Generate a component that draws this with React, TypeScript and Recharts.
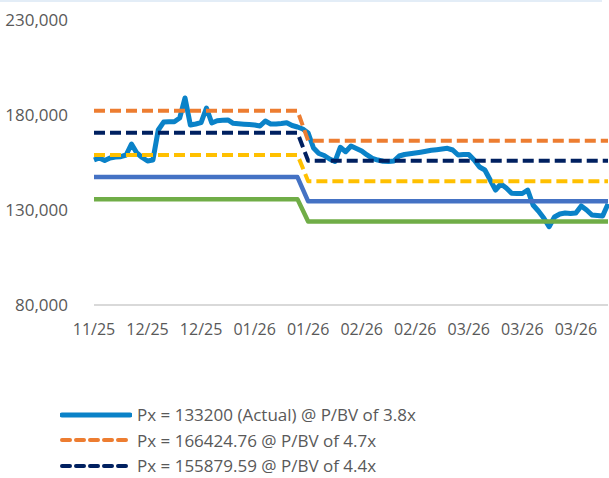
import { LineChart, Line, XAxis, YAxis } from "recharts";

// x tick labels, one every 10 trading days
const TICK_LABELS = ["11/25", "12/25", "12/25", "01/26", "01/26", "02/26", "02/26", "03/26", "03/26", "03/26"];
const TICK_IDX = [0, 10, 20, 30, 40, 50, 60, 70, 80, 90];
const Y_TICKS = [80000, 130000, 180000, 230000];

// daily close
const ACTUAL = [
  156300, 157400, 156050, 157370, 157900, 158050, 158950, 164740, 160000, 157630,
  155800, 156300, 172100, 176300, 176470, 176470, 178400, 188950, 174700, 175260,
  175950, 183680, 175800, 177000, 177260, 177370, 175630, 175370, 175160, 175000,
  174700, 174200, 176840, 175260, 175260, 175520, 175950, 174470, 173680, 172630,
  170520, 162630, 159730, 158680, 156840, 155520, 163000, 160680, 163680, 162370,
  161050, 158950, 157210, 156310, 155630, 155520, 155790, 158420, 159210, 159630,
  160000, 160420, 160890, 161420, 161730, 162100, 162470, 161580, 158950, 159210,
  159210, 156310, 152630, 151050, 145790, 140520, 143680, 141580, 138790, 138680,
  138680, 140520, 132630, 129470, 125790, 121210, 126310, 127890, 128420, 128160,
  128420, 132100, 130000, 127370, 127100, 126840, 133200,
];

// P/BV bands: corner points only (BV steps down around mid Jan)
const STEP_IDX = [0, 38, 40, 96];
const PX_47 = [182250, 182250, 166424.76, 166424.76];
const PX_44 = [170620, 170620, 155879.59, 155879.59];
const PX_41 = [158990, 158990, 145180, 145180];
const PX_38 = [147350, 147350, 134560, 134560];
const PX_35 = [135720, 135720, 123930, 123930];

const toPoints = (idx: number[], vals: number[]) => vals.map((v, k) => ({ i: idx[k], v }));

const TEXT = "#595959";
const FONT = '"Open Sans", sans-serif';

interface Series {
  key: string;
  data: { i: number; v: number }[];
  color: string;
  width: number;
  dash?: string;
  label?: string;
}

const SERIES: Series[] = [
  { key: "actual", data: toPoints(ACTUAL.map((_, k) => k), ACTUAL), color: "#0A82C8", width: 5, label: "Px = 133200 (Actual) @ P/BV of 3.8x" },
  { key: "px47", data: toPoints(STEP_IDX, PX_47), color: "#ED7D31", width: 4, dash: "11 5", label: "Px = 166424.76 @ P/BV of 4.7x" },
  { key: "px44", data: toPoints(STEP_IDX, PX_44), color: "#002060", width: 4, dash: "11 5", label: "Px = 155879.59 @ P/BV of 4.4x" },
  { key: "px41", data: toPoints(STEP_IDX, PX_41), color: "#FFC000", width: 4, dash: "11 5" },
  { key: "px38", data: toPoints(STEP_IDX, PX_38), color: "#4472C4", width: 4.5 },
  { key: "px35", data: toPoints(STEP_IDX, PX_35), color: "#70AD47", width: 4.5 },
];

export default function App() {
  const legendRows = SERIES.filter((s) => s.label);
  return (
    <div
      style={{
        position: "absolute",
        left: 0,
        top: 0,
        width: 609,
        height: 478,
        overflow: "hidden",
        background: "#fff",
        fontFamily: FONT,
      }}
    >
      <div style={{ position: "absolute", left: 0, top: 0, width: 602, height: 2, background: "#e3edf7" }} />
      <LineChart width={609} height={340} margin={{ top: 20, right: 1, left: 0, bottom: 0 }}>
        <XAxis
          type="number"
          dataKey="i"
          domain={[0, 96]}
          ticks={TICK_IDX}
          interval={0}
          tickFormatter={(v: number) => TICK_LABELS[Math.round(v / 10)]}
          axisLine={{ stroke: "#d9d9d9", strokeWidth: 2 }}
          tickLine={false}
          tickSize={0}
          tickMargin={19}
          height={35}
          tick={{ fill: TEXT, fontSize: 16, fontFamily: FONT }}
        />
        <YAxis
          type="number"
          domain={[80000, 230000]}
          ticks={Y_TICKS}
          interval={0}
          width={94}
          axisLine={false}
          tickLine={false}
          tickSize={0}
          tickMargin={26}
          tickFormatter={(v: number) => v.toLocaleString("en-US")}
          tick={{ fill: TEXT, fontSize: 17, fontFamily: FONT }}
        />
        {SERIES.map((s) => (
          <Line
            key={s.key}
            data={s.data}
            dataKey="v"
            type="linear"
            stroke={s.color}
            strokeWidth={s.width}
            strokeDasharray={s.dash}
            strokeLinejoin="round"
            dot={false}
            activeDot={false}
            isAnimationActive={false}
          />
        ))}
      </LineChart>

      {/* legend, only first rows fit in the frame */}
      <div style={{ position: "absolute", left: 60, top: 402 }}>
        {legendRows.map((s) => (
          <div key={s.key} style={{ display: "flex", alignItems: "center", height: 25.5 }}>
            <svg width={72} height={10} style={{ flexShrink: 0 }}>
              <line
                x1={2}
                y1={5}
                x2={70}
                y2={5}
                stroke={s.color}
                strokeWidth={s.dash ? 4 : 5}
                strokeDasharray={s.dash ? "8 6" : undefined}
                strokeLinecap="round"
              />
            </svg>
            <span style={{ marginLeft: 5, fontSize: 17, lineHeight: "17px", color: TEXT, whiteSpace: "nowrap" }}>
              {s.label}
            </span>
          </div>
        ))}
      </div>
    </div>
  );
}
